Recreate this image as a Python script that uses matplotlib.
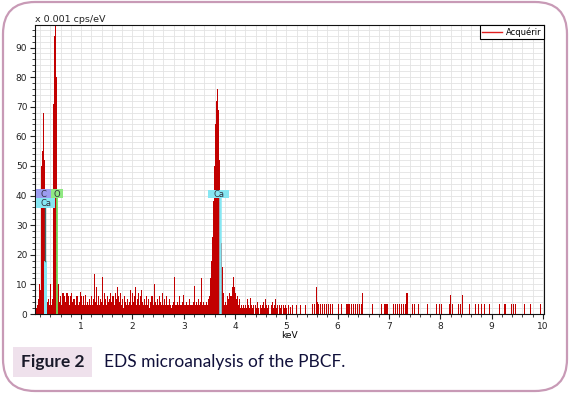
import numpy as np
import matplotlib.pyplot as plt
from matplotlib.patches import FancyBboxPatch, Rectangle
from matplotlib.lines import Line2D
from matplotlib.transforms import IdentityTransform
from matplotlib.ticker import MultipleLocator

# EDS spectrum, counts in x 0.001 cps/eV, one value per 0.02 keV channel
chanWidth = 0.02

lowStart = 0.12  # 0.12 - 0.98 keV, C and O peaks
lowCounts = [2, 3, 5, 10, 8, 50, 55, 68, 52, 18, 6, 4, 5, 3, 10, 3, 5, 71, 94, 98,
             80, 10, 10, 4, 6, 3, 7, 7, 6, 4, 7, 7, 6, 3, 6, 7, 4, 5, 3, 6,
             6, 3, 4, 7.5]

midStart = 1.00  # 1.00 - 3.40 keV, background
midCounts = [6, 3, 6, 3, 6.5, 3, 4, 3, 5, 3, 6, 3, 5, 13.5, 4, 9, 3, 6, 3, 5,
             4, 12.5, 3, 7, 5, 3, 6, 4, 5, 7, 4, 6, 3, 7, 5, 9, 6, 4, 7, 3,
             5, 2, 6, 4, 3, 5, 3, 4, 8, 3, 7, 4, 6, 9, 3, 5, 7, 3, 6, 8,
             4, 3, 5, 3, 6, 3, 5, 2, 4, 6, 3, 10, 4, 3, 5, 3, 6, 4, 3, 7,
             3, 5, 3, 6, 3, 3, 5, 3, 2, 3, 4, 12.5, 3, 3, 4, 3, 6, 3, 3, 4,
             6.5, 3, 3, 4, 3, 3, 5, 3, 3, 4, 9.5, 3, 4, 3, 5, 3, 4, 12, 3, 4,
             3]

caStart = 3.42  # 3.42 - 4.20 keV, Ca K peaks
caCounts = [3, 4, 3, 5, 6, 12, 18, 26, 38, 50, 64, 72, 76, 69, 52, 36, 24, 16, 7, 3,
            4, 3, 6, 5, 7, 6, 9, 12.5, 9, 7, 5, 6, 3, 5, 2, 3, 2, 3, 2, 3]

highStart = 4.22  # 4.22 - 5.00 keV
highCounts = [2, 5, 3, 2, 5.5, 3, 2, 3, 0, 3, 2, 4, 2, 0, 3, 2, 3, 4, 2, 5,
              3, 2, 3, 0, 3, 4, 2, 3, 5, 2, 3, 0, 3, 2, 3, 0, 3, 2, 3, 2]

# sparse channels above 5 keV
tailEnergy = [5.04, 5.08, 5.12, 5.20, 5.27, 5.37, 5.50, 5.54, 5.58, 5.60, 5.62, 5.66,
              5.70, 5.74, 5.78, 5.82, 5.86, 5.90, 6.02, 6.08, 6.18, 6.22, 6.26, 6.30,
              6.34, 6.38, 6.42, 6.46, 6.49, 6.67, 6.86, 6.92, 6.96, 7.08, 7.12, 7.16,
              7.20, 7.24, 7.28, 7.32, 7.35, 7.46, 7.50, 7.57, 7.75, 7.93, 7.98, 8.03,
              8.17, 8.20, 8.23, 8.36, 8.40, 8.43, 8.56, 8.68, 8.74, 8.81, 8.86, 8.96,
              9.15, 9.26, 9.38, 9.43, 9.46, 9.64, 9.75, 9.95]
tailCounts = [3, 2.5, 3, 3, 3, 3, 3.5, 3.5, 9, 4, 3.5, 3.5,
              3.5, 3.5, 3.5, 3.5, 3.5, 3.5, 3.5, 3.5, 3.5, 3.5, 3.5, 3.5,
              3.5, 3.5, 3.5, 3.5, 7, 3.5, 3.5, 3.5, 3.5, 3.5, 3.5, 3.5,
              3.5, 3.5, 3.5, 3.5, 7, 3.5, 3.5, 3.5, 3.5, 3.5, 3.5, 3.5,
              3.5, 6.5, 3.5, 3.5, 3.5, 6.5, 3.5, 3.5, 3.5, 3.5, 3.5, 3.5,
              3.5, 3.5, 3.5, 3.5, 3.5, 3.5, 3.5, 3.5]

# element markers: name, line energy (keV), label box left/right, box bottom/top, colour
markerNames = ['C', 'O', 'Ca', 'Ca']
markerEnergy = [0.27, 0.525, 0.30, 3.71]
markerBoxX = [(0.125, 0.41), (0.41, 0.655), (0.125, 0.49), (3.48, 3.89)]
markerBoxY = [(39.3, 42.1), (39.3, 42.1), (35.9, 39.1), (39.1, 41.9)]
markerColor = ['#9c9cf0', '#8fe882', '#86e6f2', '#86e6f2']

caLFill = 18  # height of the Ca L line fill


def channels(start, counts):
    return start + chanWidth * np.arange(len(counts))


fig = plt.figure(figsize=(5.7, 3.93), dpi=100)
ax = fig.add_axes([35 / 570, 79 / 393, 509 / 570, 289 / 393])

specColor = '#c20000'
for start, counts in [(lowStart, lowCounts), (midStart, midCounts),
                      (caStart, caCounts), (highStart, highCounts)]:
    ax.bar(channels(start, counts), counts, width=chanWidth, color=specColor,
           linewidth=0, zorder=2)
ax.bar(tailEnergy, tailCounts, width=0.022, color=specColor, linewidth=0, zorder=2)

# Ca L line: cyan fill at the bottom and a dark stem up to the label
ax.fill_between([0.282, 0.34], 0, caLFill, color='#86e6f2', zorder=3, linewidth=0)
ax.plot([markerEnergy[2]] * 2, [caLFill, markerBoxY[2][0]], color='#3c6c6c', lw=1.0, zorder=3)
# O line and Ca K line
ax.plot([markerEnergy[1]] * 2, [0, markerBoxY[1][0]], color='#6fdc5a', lw=1.3, zorder=3)
ax.plot([markerEnergy[3]] * 2, [0, markerBoxY[3][0]], color='#86e6f2', lw=1.8, zorder=3)

for name, (x0, x1), (y0, y1), col in zip(markerNames, markerBoxX, markerBoxY, markerColor):
    ax.add_patch(Rectangle((x0, y0), x1 - x0, y1 - y0, color=col, zorder=4, linewidth=0))
    ax.text((x0 + x1) / 2, (y0 + y1) / 2 - 0.2, name, ha='center', va='center',
            fontsize=6, color='#303040', zorder=5)

ax.set_xlim(0.1, 10.02)
ax.set_ylim(0, 97.6)
ax.xaxis.set_major_locator(MultipleLocator(1))
ax.xaxis.set_minor_locator(MultipleLocator(0.2))
ax.yaxis.set_major_locator(MultipleLocator(10))
ax.yaxis.set_minor_locator(MultipleLocator(2))
ax.set_xticks([1, 2, 3, 4, 5, 6, 7, 8, 9, 10])
ax.grid(True, which='both', color='#e3e3e3', lw=0.6, zorder=0)
ax.set_axisbelow(True)
ax.tick_params(which='both', direction='out', labelsize=6.5, colors='#222222', pad=2)
ax.tick_params(which='major', length=3.5, width=0.8)
ax.tick_params(which='minor', length=2, width=0.6)
for s in ax.spines.values():
    s.set_linewidth(0.8)
    s.set_color('#111111')

ax.set_xlabel('keV', fontsize=6.5, labelpad=0)
ax.text(0.0, 1.003, 'x 0.001 cps/eV', transform=ax.transAxes, fontsize=6.8,
        ha='left', va='bottom', color='#222222')

leg = ax.legend(handles=[Line2D([], [], color='#e02020', lw=1)], labels=['Acquérir'],
                loc='upper right', fontsize=6, fancybox=False, edgecolor='black',
                borderaxespad=0, handlelength=2.4, handletextpad=0.5,
                borderpad=0.25, framealpha=1)
leg.get_frame().set_linewidth(0.8)

# page decoration: rounded border and caption
border = FancyBboxPatch((3, 2), 564, 389, boxstyle='round,pad=0,rounding_size=32',
                        transform=IdentityTransform(), fill=False,
                        edgecolor='#c89ab6', lw=1.6)
fig.add_artist(border)
capBox = Rectangle((13, 16), 79, 30, transform=IdentityTransform(),
                   color='#efe1ec', linewidth=0)
fig.add_artist(capBox)
fig.text(21 / 570, 1 - 362 / 393, 'Figure 2', fontsize=12.5, fontweight='bold',
         family='Lato', color='#1a1a2a', va='center', ha='left')
fig.text(104 / 570, 1 - 362 / 393, 'EDS microanalysis of the PBCF.', fontsize=12.5,
         family='Lato', color='#10103a', va='center', ha='left')

fig.savefig('out.png', dpi=100)
